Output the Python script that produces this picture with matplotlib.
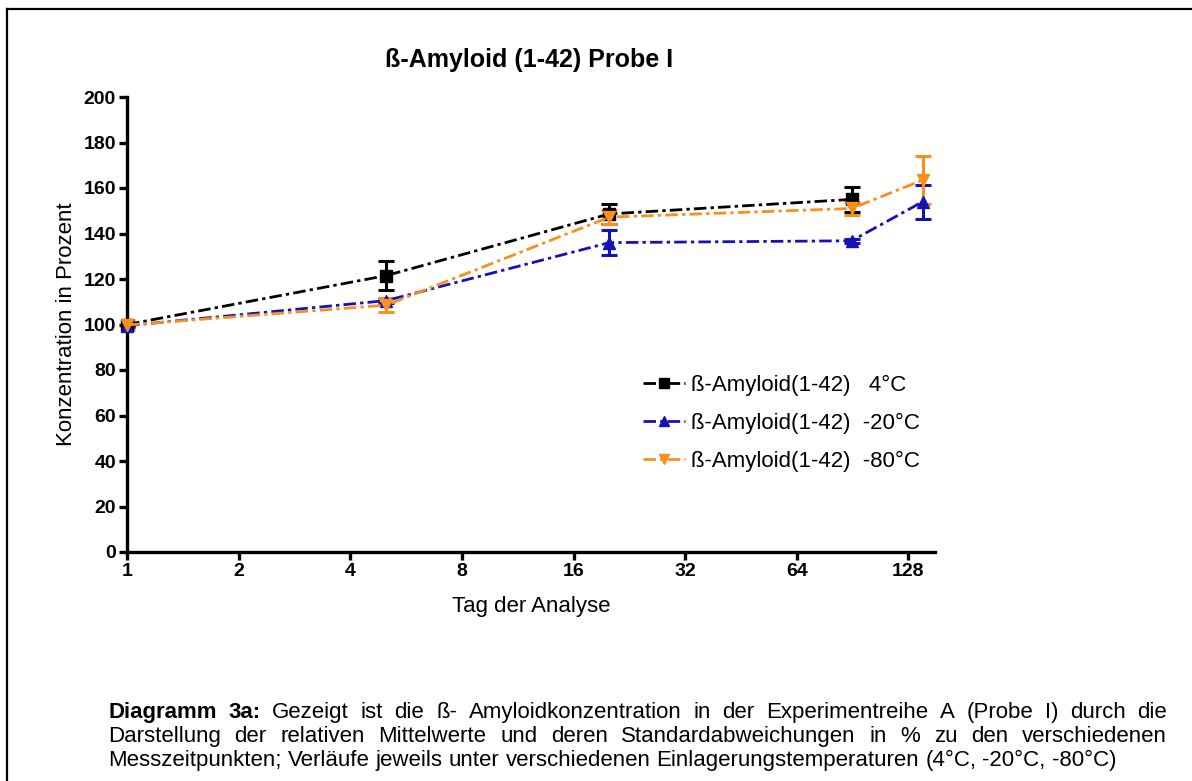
import numpy as np
import matplotlib
matplotlib.use("Agg")
import matplotlib.pyplot as plt
from matplotlib.lines import Line2D

plt.rcParams['font.family'] = ['Liberation Sans', 'DejaVu Sans']

# days of analysis
days = [1, 5, 20, 90, 140]

# mean concentration in percent and SD, per storage temperature
mean_4 = [100.0, 121.5, 148.6, 155.0]
sd_4 = [0.8, 6.5, 4.5, 5.5]
mean_20 = [99.5, 110.5, 136.0, 136.8, 154.0]
sd_20 = [0.8, 1.2, 5.5, 0.8, 7.5]
mean_80 = [99.8, 108.5, 147.2, 151.0, 163.5]
sd_80 = [2.0, 3.0, 3.0, 3.0, 10.5]

labels = ["ß-Amyloid(1-42)   4°C", "ß-Amyloid(1-42)  -20°C", "ß-Amyloid(1-42)  -80°C"]
colors = ["#000000", "#1414b4", "#f7901e"]
markers = ["s", "^", "v"]

xticks = [1, 2, 4, 8, 16, 32, 64, 128]
yticks = list(range(0, 201, 20))

W, H = 1192, 781
fig = plt.figure(figsize=(W / 100, H / 100), dpi=100)

def fx(px):
    return px / W

def fy(py):
    return 1 - py / H

ax = fig.add_axes([fx(127), fy(552), fx(935) - fx(127), fy(97) - fy(552)])
ax.set_xscale('log', base=2)

series = [(days[:4], mean_4, sd_4), (days, mean_20, sd_20), (days, mean_80, sd_80)]
handles = []
for (x, m, s), c, mk, lab in zip(series, colors, markers, labels):
    ax.errorbar(x, m, yerr=s, fmt='none', ecolor=c, elinewidth=2.2, capsize=6,
                capthick=2.2, zorder=3)
    ln, = ax.plot(x, m, color=c, lw=2.0, linestyle=(0, (4.5, 1.5, 1.2, 1.5)),
                  marker=mk, markersize=8, markeredgecolor=c, markerfacecolor=c,
                  label=lab, zorder=4, clip_on=False)
    handles.append(ln)

ax.set_xlim(1, 151)
ax.set_ylim(0, 200)
ax.set_xticks(xticks)
ax.set_xticklabels([str(t) for t in xticks])
ax.xaxis.set_minor_locator(plt.NullLocator())
ax.set_yticks(yticks)
for sp in ['top', 'right']:
    ax.spines[sp].set_visible(False)
for sp in ['left', 'bottom']:
    ax.spines[sp].set_linewidth(2.4)
ax.tick_params(axis='both', which='major', direction='out', length=6, width=2.4,
               labelsize=14, pad=2)
for t in ax.get_xticklabels() + ax.get_yticklabels():
    t.set_fontweight('bold')

ax.set_xlabel("Tag der Analyse", fontsize=16)
ax.xaxis.set_label_coords(0.5, (fy(596) - fy(552)) / (fy(97) - fy(552)))
ax.set_ylabel("Konzentration in Prozent", fontsize=16)
ax.yaxis.set_label_coords((fx(77) - fx(127)) / (fx(935) - fx(127)), 0.5)

leg = ax.legend(handles=handles, loc='upper left', bbox_to_anchor=(fx(632), fy(364)),
                bbox_transform=fig.transFigure, frameon=False, fontsize=16,
                handlelength=1.9, handletextpad=0.25, labelspacing=0.75, borderpad=0,
                markerscale=0.85)

fig.text(fx(529), fy(60), "ß-Amyloid (1-42) Probe I", ha='center', va='center',
         fontsize=18, fontweight='bold')

# frame of the figure box (only top and left edges visible)
fig.add_artist(Line2D([fx(7), 1], [fy(9), fy(9)], color='black', lw=1.6))
fig.add_artist(Line2D([fx(7), fx(7)], [fy(9), 0], color='black', lw=1.6))

# justified caption
cap_lines = [
    [("Diagramm", 'bold'), ("3a:", 'bold')] + [(w, 'normal') for w in
        "Gezeigt ist die ß- Amyloidkonzentration in der Experimentreihe A (Probe I) durch die".split()],
    [(w, 'normal') for w in
        "Darstellung der relativen Mittelwerte und deren Standardabweichungen in % zu den verschiedenen".split()],
    [(w, 'normal') for w in
        "Messzeitpunkten; Verläufe jeweils unter verschiedenen Einlagerungstemperaturen (4°C, -20°C, -80°C)".split()],
]
cap_y = [718, 742, 766]
left_px, right_px = 108, 1167
cap_size = 16

renderer = fig.canvas.get_renderer()
space = fig.text(0, 0, "a a", fontsize=cap_size)
aa = fig.text(0, 0, "aa", fontsize=cap_size)
space_w = space.get_window_extent(renderer).width - aa.get_window_extent(renderer).width
space.remove()
aa.remove()

for i, (words, yy) in enumerate(zip(cap_lines, cap_y)):
    objs = [fig.text(0, fy(yy), w, fontsize=cap_size, fontweight=wt, va='baseline', ha='left')
            for w, wt in words]
    widths = [o.get_window_extent(renderer).width for o in objs]
    if i < len(cap_lines) - 1:
        gap = (right_px - left_px - sum(widths)) / (len(words) - 1)
    else:
        gap = space_w
    x = left_px
    for o, wd in zip(objs, widths):
        o.set_x(fx(x))
        x += wd + gap

fig.savefig("out.png", dpi=100)
